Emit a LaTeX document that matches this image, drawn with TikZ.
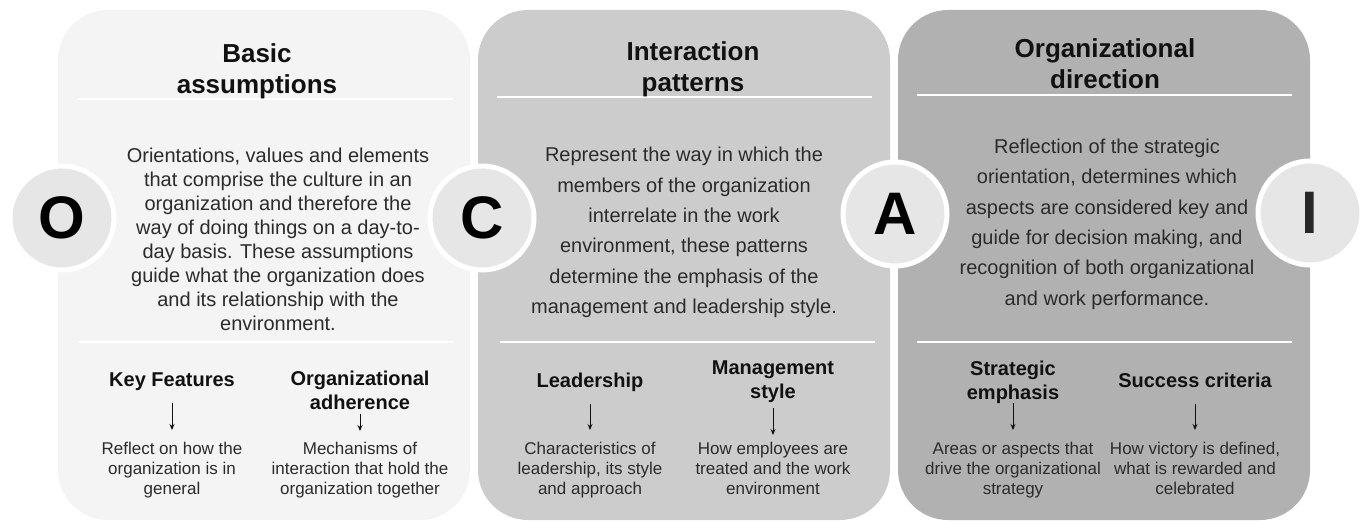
\documentclass[tikz,border=0pt]{standalone}
\usepackage{fontspec}
\setmainfont{Liberation Sans}
\usetikzlibrary{arrows.meta}
\definecolor{panelA}{HTML}{F4F4F4}
\definecolor{panelB}{HTML}{CCCCCC}
\definecolor{panelC}{HTML}{B1B1B1}
\definecolor{disc}{HTML}{E6E6E6}
\definecolor{bodytext}{HTML}{2B2B2B}
\definecolor{headtext}{HTML}{111111}
\tikzset{
  panel/.style={rounded corners=50pt},
  rule/.style={white, line width=1.6pt},
  title/.style={anchor=north, inner sep=0pt, align=center, text=headtext,
    font=\fontsize{26}{31}\selectfont\bfseries},
  body/.style={anchor=north, inner sep=0pt, align=center, text=bodytext,
    font=\fontsize{20}{#1}\selectfont},
  letter/.style={circle, fill=disc, draw=white, line width=5pt,
    minimum size=104pt, inner sep=0pt,
    font=\fontsize{60}{60}\selectfont\bfseries},
  subhead/.style={anchor=north, inner sep=0pt, align=center, text depth=0pt,
    text=headtext, font=\fontsize{20}{24}\selectfont\bfseries},
  desc/.style={anchor=north, inner sep=0pt, align=center, text=bodytext,
    font=\fontsize{17}{20}\selectfont},
  arr/.style={-{Stealth[length=6pt,width=5pt]}, line width=0.9pt, draw=headtext},
}
\begin{document}
\begin{tikzpicture}[x=1pt,y=-1pt]
\useasboundingbox (0,0) rectangle (1361,524);

% three panels
\fill[panel, panelA] (58,10) rectangle (470,520);
\fill[panel, panelB] (478,10) rectangle (890,520);
\fill[panel, panelC] (898,10) rectangle (1310,520);

% separators
\draw[rule] (78,99) -- (453,99);
\draw[rule] (78,342) -- (453,342);
\draw[rule] (497,97) -- (872,97);
\draw[rule] (500,342) -- (875,342);
\draw[rule] (917,95) -- (1292,95);
\draw[rule] (917,342) -- (1292,342);

% titles
\node[title] (t1) at (257,43) {Basic\\assumptions};
\node[title] (t2) at (693,41) {Interaction\\patterns};
\node[title] (t3) at (1105,38) {Organizational\\direction};

% descriptions
\node[body=24] (b1) at (278,148) {Orientations, values and elements\\
  that comprise the culture in an\\
  organization and therefore the\\
  way of doing things on a day-to-\\
  day basis. These assumptions\\
  guide what the organization does\\
  and its relationship with the\\
  environment.};
\node[body=30.4] (b2) at (684,147) {Represent the way in which the\\
  members of the organization\\
  interrelate in the work\\
  environment, these patterns\\
  determine the emphasis of the\\
  management and leadership style.};
\node[body=30.3] (b3) at (1107,139) {Reflection of the strategic\\
  orientation, determines which\\
  aspects are considered key and\\
  guide for decision making, and\\
  recognition of both organizational\\
  and work performance.};

% letter discs
\node[letter] (lo) at (62,218) {O};
\node[letter] (lc) at (482,218) {C};
\node[letter] (la) at (895,214) {A};
\node[letter, text=bodytext!90!black] (li) at (1310,213) {I};

% sub-headings
\node[subhead] (h1) at (172,373) {Key Features};
\node[subhead] (h2) at (360,371) {Organizational\\adherence};
\node[subhead] (h3) at (590,373) {Leadership};
\node[subhead] (h4) at (773,361) {Management\\style};
\node[subhead] (h5) at (1013,361) {Strategic\\emphasis};
\node[subhead] (h6) at (1195,373) {Success criteria};

% sub-descriptions
\node[desc] (d1) at (172,442) {Reflect on how the\\organization is in\\general};
\node[desc] (d2) at (360,442) {Mechanisms of\\interaction that hold the\\organization together};
\node[desc] (d3) at (590,442) {Characteristics of\\leadership, its style\\and approach};
\node[desc] (d4) at (773,442) {How employees are\\treated and the work\\environment};
\node[desc] (d5) at (1013,442) {Areas or aspects that\\drive the organizational\\strategy};
\node[desc] (d6) at (1195,442) {How victory is defined,\\what is rewarded and\\celebrated};

% arrows
\draw[arr, shorten <=16pt, shorten >=12pt] (h1) -- (d1);
\draw[arr, shorten <=4pt, shorten >=11pt] (h2) -- (d2);
\draw[arr, shorten <=16pt, shorten >=12pt] (h3) -- (d3);
\draw[arr, shorten <=9pt, shorten >=7pt] (h4) -- (d4);
\draw[arr, shorten <=3pt, shorten >=12pt] (h5) -- (d5);
\draw[arr, shorten <=16pt, shorten >=12pt] (h6) -- (d6);
\end{tikzpicture}
\end{document}
